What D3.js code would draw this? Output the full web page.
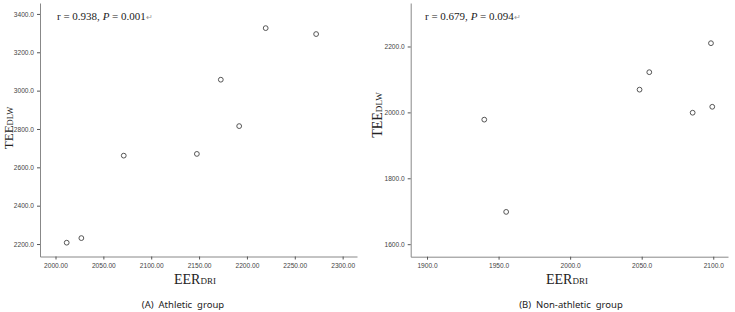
<!DOCTYPE html>
<html>
<head>
<meta charset="utf-8">
<script src="https://cdn.jsdelivr.net/npm/d3@7"></script>
<style>
  body { margin: 0; background: #fff; }
  svg { display: block; }
  .tick text { font-family: "Liberation Sans", Arial, sans-serif; font-size: 6.6px; fill: #444; }
</style>
</head>
<body>
<svg id="chart" width="735" height="312"></svg>
<script>
// Athletic group (A)
var athleticEER = [2011.7, 2027, 2071.3, 2147.7, 2172.7, 2191.9, 2219.6, 2272.3];
var athleticTEE = [2207, 2231, 2661, 2670, 3057, 2815, 3326, 3295];
var athleticXTicks = [2000, 2050, 2100, 2150, 2200, 2250, 2300];
var athleticYTicks = [2200, 2400, 2600, 2800, 3000, 3200, 3400];

// Non-athletic group (B)
var nonAthleticEER = [1940, 1955.3, 2048.5, 2055.3, 2085.6, 2098.4, 2099.3];
var nonAthleticTEE = [1978, 1698, 2069, 2122, 1999, 2210, 2017];
var nonAthleticXTicks = [1900, 1950, 2000, 2050, 2100];
var nonAthleticYTicks = [1600, 1800, 2000, 2200];

var svg = d3.select("#chart");

function drawPanel(cfg)
{
    var g = svg.append("g");

    var x = d3.scaleLinear()
        .domain(cfg.xDomain)
        .range([cfg.left, cfg.right]);
    var y = d3.scaleLinear()
        .domain(cfg.yDomain)
        .range([cfg.bottom, cfg.top]);

    // x axis
    var xAxis = g.append("g")
        .attr("transform", "translate(0," + cfg.bottom + ")")
        .call(d3.axisBottom(x).tickValues(cfg.xTicks).tickSize(3).tickSizeOuter(0)
            .tickFormat(d3.format(cfg.xFormat)));
    // y axis
    var yAxis = g.append("g")
        .attr("transform", "translate(" + cfg.left + ",0)")
        .call(d3.axisLeft(y).tickValues(cfg.yTicks).tickSize(3).tickSizeOuter(0)
            .tickFormat(d3.format(".1f")));

    [xAxis, yAxis].forEach(function(a)
    {
        a.select(".domain").attr("stroke", "#888");
        a.selectAll(".tick line").attr("stroke", "#555");
    });
    xAxis.selectAll(".tick text").attr("dy", "0.8em");

    // points
    g.append("g")
        .selectAll("circle")
        .data(cfg.xs)
        .enter().append("circle")
        .attr("cx", function(d) { return x(d); })
        .attr("cy", function(d, i) { return y(cfg.ys[i]); })
        .attr("r", 2.4)
        .attr("fill", "#fff")
        .attr("stroke", "#555")
        .attr("stroke-width", 1);

    // annotation
    var ann = g.append("text")
        .attr("x", cfg.annX)
        .attr("y", 20)
        .attr("font-family", "Liberation Serif, Times New Roman, serif")
        .attr("font-size", 11)
        .attr("fill", "#222");
    ann.append("tspan").text("r = " + cfg.r + ", ");
    ann.append("tspan").attr("font-style", "italic").text("P");
    ann.append("tspan").text(" = " + cfg.p);
    ann.append("tspan").attr("fill", "#999").attr("font-size", 8).text("\u21B5");

    // y title
    var yt = g.append("text")
        .attr("transform", "translate(" + cfg.yTitleX + "," + cfg.yTitleY + ") rotate(-90)")
        .attr("text-anchor", "middle")
        .attr("font-family", "Liberation Serif, Times New Roman, serif")
        .attr("font-size", cfg.yTitleSize)
        .attr("fill", "#222");
    yt.append("tspan").text("TEE");
    yt.append("tspan").attr("font-size", cfg.yTitleSize * 0.65).text("DLW");

    // x title
    var xt = g.append("text")
        .attr("x", cfg.xTitleX)
        .attr("y", 284)
        .attr("text-anchor", "middle")
        .attr("font-family", "Liberation Serif, Times New Roman, serif")
        .attr("font-size", 14)
        .attr("fill", "#222");
    xt.append("tspan").text("EER");
    xt.append("tspan").attr("font-size", 9).text("DRI");

    // caption
    g.append("text")
        .attr("x", cfg.captionX)
        .attr("y", 308)
        .attr("text-anchor", "middle")
        .attr("font-family", "Noto Sans, sans-serif")
        .attr("font-size", 9.5)
        .attr("fill", "#222")
        .attr("xml:space", "preserve")
        .text(cfg.caption);
}

drawPanel({
    xs: athleticEER, ys: athleticTEE,
    xTicks: athleticXTicks, yTicks: athleticYTicks, xFormat: ".2f",
    xDomain: [1983.8, 2315], yDomain: [2135, 3457],
    left: 40, right: 357, top: 3, bottom: 256.5,
    annX: 57, r: "0.938", p: "0.001",
    yTitleX: 13, yTitleY: 128, yTitleSize: 13, xTitleX: 195, captionX: 183,
    caption: "(A)  Athletic  group"
});

drawPanel({
    xs: nonAthleticEER, ys: nonAthleticTEE,
    xTicks: nonAthleticXTicks, yTicks: nonAthleticYTicks, xFormat: ".1f",
    xDomain: [1888.6, 2110.3], yDomain: [1562, 2332],
    left: 410.7, right: 728, top: 3, bottom: 256.7,
    annX: 425, r: "0.679", p: "0.094",
    yTitleX: 382, yTitleY: 115, yTitleSize: 14, xTitleX: 567, captionX: 571,
    caption: "(B)  Non-athletic  group"
});
</script>
</body>
</html>
